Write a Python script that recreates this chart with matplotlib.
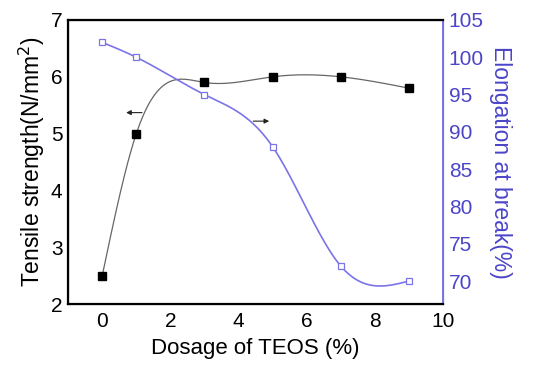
"""
Tensile strength and elongation at break vs dosage of TEOS.
"""
import numpy as np
import matplotlib
matplotlib.use('Agg')
import matplotlib.pyplot as plt

plt.rcParams['font.family'] = ['Liberation Sans', 'DejaVu Sans']

dosage = [0, 1, 3, 5, 7, 9]
tensile = [2.5, 5.0, 5.9, 6.0, 6.0, 5.8]
elong = [102, 100, 95, 88, 72, 70]

blue_line = '#7b74e8'
blue_text = '#4b45c8'


def spline(x, y, n=300):
    # natural cubic spline, like the smooth line in the original plot
    x = np.asarray(x, float)
    y = np.asarray(y, float)
    m = len(x)
    h = np.diff(x)
    A = np.zeros((m, m))
    b = np.zeros(m)
    A[0, 0] = A[-1, -1] = 1
    for i in range(1, m - 1):
        A[i, i-1] = h[i-1]
        A[i, i] = 2*(h[i-1] + h[i])
        A[i, i+1] = h[i]
        b[i] = 3*((y[i+1]-y[i])/h[i] - (y[i]-y[i-1])/h[i-1])
    c = np.linalg.solve(A, b)
    xs = np.linspace(x[0], x[-1], n)
    k = np.clip(np.searchsorted(x, xs) - 1, 0, m - 2)
    dx = xs - x[k]
    bb = (y[k+1]-y[k])/h[k] - h[k]*(2*c[k] + c[k+1])/3
    d = (c[k+1] - c[k])/(3*h[k])
    return xs, y[k] + bb*dx + c[k]*dx**2 + d*dx**3


fig = plt.figure(figsize=(5.45, 3.7), dpi=100)
ax = fig.add_axes([0.125, 0.178, 0.688, 0.768])
ax2 = ax.twinx()

xs, ys = spline(dosage, tensile)
ax.plot(xs, ys, color='#666666', lw=0.9)
ax.plot(dosage, tensile, ls='', marker='s', ms=5.5, color='k')

xs, ys = spline(dosage, elong)
ax2.plot(xs, ys, color=blue_line, lw=1.2)
ax2.plot(dosage, elong, ls='', marker='s', ms=4, mfc='white', mec=blue_line, mew=0.9)

# direction arrows
ax.annotate('', xy=(0.62, 5.37), xytext=(1.25, 5.37),
            arrowprops=dict(arrowstyle='-|>', color='#222222', lw=0.8, mutation_scale=7))
ax.annotate('', xy=(4.98, 5.22), xytext=(4.35, 5.22),
            arrowprops=dict(arrowstyle='-|>', color='#222222', lw=0.8, mutation_scale=7))

ax.set_xlim(-1, 10)
ax.set_ylim(2, 7)
ax2.set_ylim(66.9, 105)
ax.set_xticks([0, 2, 4, 6, 8, 10])
ax.set_yticks([2, 3, 4, 5, 6, 7])
ax2.set_yticks([70, 75, 80, 85, 90, 95, 100, 105])

ax.tick_params(axis='x', length=0, labelsize=15, pad=6)
ax.tick_params(axis='y', length=0, labelsize=15, pad=4)
ax2.tick_params(length=0, labelsize=15, pad=4, labelcolor=blue_text)

for sp in ['left', 'bottom', 'top']:
    ax2.spines[sp].set_linewidth(1.6)
    ax2.spines[sp].set_color('black')
ax2.spines['right'].set_color(blue_line)
ax2.spines['right'].set_linewidth(1.4)

ax.set_xlabel('Dosage of TEOS (%)', fontsize=16, labelpad=5)
ax.set_ylabel('Tensile strength(N/mm$^2$)', fontsize=16.5, labelpad=3)
ax2.set_ylabel('Elongation at break(%)', fontsize=16.5, color=blue_text,
               rotation=-90, labelpad=20)

plt.savefig('out.png', dpi=100)
